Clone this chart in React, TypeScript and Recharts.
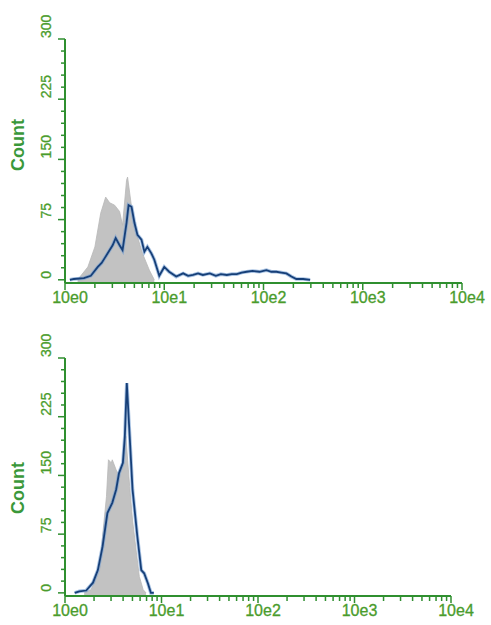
import { ComposedChart, Area, Line, XAxis, YAxis } from 'recharts';

// fluorescence intensity (x) vs cell count (y)
const topControl = [
  { x: 1.34, y: 0 }, { x: 1.7, y: 16 }, { x: 2.0, y: 41 }, { x: 2.29, y: 83 },
  { x: 2.57, y: 103 }, { x: 2.82, y: 96 }, { x: 3.16, y: 93 }, { x: 3.55, y: 85 },
  { x: 3.8, y: 68 }, { x: 4.17, y: 124 }, { x: 4.27, y: 128 }, { x: 4.68, y: 91 },
  { x: 5.25, y: 58 }, { x: 6.03, y: 33 }, { x: 7.08, y: 12 }, { x: 7.94, y: 0 },
];

const topSample = [
  { x: 1.12, y: 0 }, { x: 1.23, y: 1 }, { x: 1.55, y: 2 }, { x: 1.82, y: 5 },
  { x: 2.14, y: 16 }, { x: 2.34, y: 21 }, { x: 2.51, y: 27 }, { x: 2.82, y: 37 },
  { x: 3.02, y: 43 }, { x: 3.24, y: 52 }, { x: 3.55, y: 43 }, { x: 3.8, y: 37 },
  { x: 4.17, y: 71 }, { x: 4.37, y: 93 }, { x: 4.68, y: 91 }, { x: 5.01, y: 71 },
  { x: 5.37, y: 56 }, { x: 5.89, y: 50 }, { x: 6.31, y: 35 }, { x: 6.76, y: 41 },
  { x: 7.41, y: 33 }, { x: 7.94, y: 25 }, { x: 8.91, y: 5 }, { x: 10.0, y: 16 },
  { x: 11.2, y: 10 }, { x: 13.2, y: 4 }, { x: 15.5, y: 8 }, { x: 17.4, y: 5 },
  { x: 19.5, y: 6 }, { x: 21.9, y: 8 }, { x: 24.5, y: 6 }, { x: 28.8, y: 8 },
  { x: 33.1, y: 5 }, { x: 37.2, y: 7 }, { x: 42.7, y: 6 }, { x: 47.9, y: 7 },
  { x: 53.7, y: 7 }, { x: 60.3, y: 9 }, { x: 67.6, y: 10 }, { x: 77.6, y: 11 },
  { x: 91.2, y: 10 }, { x: 107, y: 12 }, { x: 120, y: 10 }, { x: 135, y: 10 },
  { x: 151, y: 9 }, { x: 170, y: 8 }, { x: 191, y: 4 }, { x: 214, y: 1 },
  { x: 251, y: 1 }, { x: 295, y: 0 },
];

const bottomControl = [
  { x: 1.58, y: 0 }, { x: 1.86, y: 4 }, { x: 2.29, y: 29 }, { x: 2.45, y: 72 },
  { x: 2.69, y: 123 }, { x: 2.82, y: 170 }, { x: 3.02, y: 166 }, { x: 3.09, y: 170 },
  { x: 3.39, y: 157 }, { x: 3.63, y: 149 }, { x: 3.98, y: 166 }, { x: 4.27, y: 200 },
  { x: 4.68, y: 136 }, { x: 5.01, y: 93 }, { x: 5.5, y: 51 }, { x: 5.89, y: 21 },
  { x: 6.46, y: 4 }, { x: 6.92, y: 0 },
];

const bottomSample = [
  { x: 1.26, y: 0 }, { x: 1.41, y: 2 }, { x: 1.66, y: 3 }, { x: 1.95, y: 13 },
  { x: 2.19, y: 29 }, { x: 2.45, y: 59 }, { x: 2.75, y: 102 }, { x: 3.09, y: 115 },
  { x: 3.39, y: 132 }, { x: 3.63, y: 153 }, { x: 3.98, y: 166 }, { x: 4.17, y: 200 },
  { x: 4.37, y: 268 }, { x: 4.68, y: 200 }, { x: 5.01, y: 132 }, { x: 5.62, y: 72 },
  { x: 6.17, y: 29 }, { x: 6.61, y: 25 }, { x: 7.24, y: 12 }, { x: 7.76, y: 0 },
  { x: 8.32, y: 0 },
];

const decadeLabels = ['10e0', '10e1', '10e2', '10e3', '10e4'];
const countLabels = ['0', '75', '150', '225', '300'];

const GREEN = '#2f8f2f';
const LABEL = '#4a9c2c';
const FONT = "Arial, 'Liberation Sans', sans-serif";

// log axis ticks: 1..9 per decade plus the last decade
const xTicks: number[] = [];
for (let d = 0; d < 4; d++) {
  for (let m = 1; m <= 9; m++) xTicks.push(m * Math.pow(10, d));
}
xTicks.push(10000);

const yTicks: number[] = [];
for (let v = 0; v <= 300; v += 15) yTicks.push(v);

const XTick = (props: any) => {
  const { x, y, payload } = props;
  const idx = Math.round(Math.log10(payload.value));
  const major = Math.abs(Math.log10(payload.value) - idx) < 1e-6;
  return (
    <g>
      <line x1={x} x2={x} y1={y} y2={y + (major ? 7 : 5)} stroke={GREEN} strokeWidth={1.5} />
      {major && (
        <text x={x + 5} y={y + 20} textAnchor="middle" fontSize={16} fill={LABEL}
          stroke={LABEL} strokeWidth={0.3} fontFamily={FONT}>
          {decadeLabels[idx]}
        </text>
      )}
    </g>
  );
};

const YTick = (props: any) => {
  const { x, y, payload } = props;
  const major = payload.value % 75 === 0;
  const tx = x - 19;
  const ty = y - 1;
  return (
    <g>
      <line x1={x - (major ? 7 : 4)} x2={x} y1={y} y2={y} stroke={GREEN} strokeWidth={1.5} />
      {major && (
        <text x={tx} y={ty} transform={`rotate(-90, ${tx}, ${ty})`} textAnchor="start"
          dominantBaseline="central" fontSize={14} fill={LABEL}
          stroke={LABEL} strokeWidth={0.3} fontFamily={FONT}>
          {countLabels[payload.value / 75]}
        </text>
      )}
    </g>
  );
};

function Histogram({ control, sample, height, top, right, countY }: any) {
  return (
    <div style={{ position: 'relative', width: 491, height }}>
      <ComposedChart width={491} height={height} margin={{ top, right, left: 0, bottom: 0 }}>
        <XAxis type="number" dataKey="x" scale="log" domain={[1, 10000]} ticks={xTicks}
          interval={0} tick={<XTick />} tickLine={false} tickSize={0} tickMargin={0}
          height={29} allowDataOverflow
          axisLine={{ stroke: GREEN, strokeWidth: 2 }} />
        <YAxis type="number" dataKey="y" domain={[-4, 300]} ticks={yTicks} interval={0}
          tick={<YTick />} tickLine={false} tickSize={0} tickMargin={0} width={65}
          allowDataOverflow axisLine={{ stroke: GREEN, strokeWidth: 2 }} />
        <Area data={control} dataKey="y" type="linear" baseValue="dataMin"
          fill="#c2c2c2" fillOpacity={1} stroke="#b8b8b8" strokeWidth={0.8} isAnimationActive={false} />
        <Line data={sample} dataKey="y" type="linear" stroke="#6f9bd0" strokeWidth={3.6}
          strokeOpacity={0.6} dot={false} isAnimationActive={false} />
        <Line data={sample} dataKey="y" type="linear" stroke="#163f78" strokeWidth={1.8}
          dot={false} isAnimationActive={false} />
      </ComposedChart>
      <div style={{
        position: 'absolute', left: 18, top: countY, transform: 'translate(-50%, -50%) rotate(-90deg)',
        color: '#3a983a', fontWeight: 'bold', fontSize: 18, fontFamily: FONT,
      }}>
        Count
      </div>
    </div>
  );
}

export default function App() {
  return (
    <div style={{ position: 'absolute', left: 0, top: 0, width: 491, height: 625, background: '#fff' }}>
      <Histogram control={topControl} sample={topSample} height={312} top={39} right={29} countY={145} />
      <Histogram control={bottomControl} sample={bottomSample} height={313} top={46} right={40} countY={176} />
    </div>
  );
}
